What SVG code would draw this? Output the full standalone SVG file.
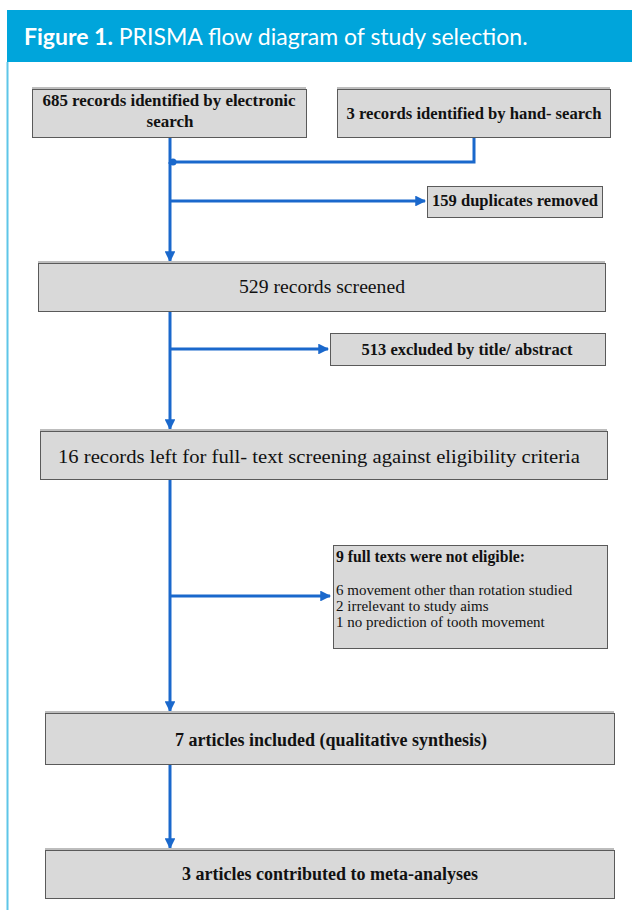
<svg xmlns="http://www.w3.org/2000/svg" width="632" height="910" viewBox="0 0 632 910">
<style>
.box{fill:#d9d9d9;stroke:#5a5a5a;stroke-width:1}
.sh{fill:#bdbdbd}
.t{font-family:"Liberation Serif","DejaVu Serif",serif;fill:#111;text-anchor:middle}
.b{font-weight:bold}
.l{text-anchor:start}
.c{fill:none;stroke:#1a68cc;stroke-width:3}
</style>
<defs>
<marker id="ah" viewBox="0 0 10 10" refX="9" refY="5" markerWidth="3.6" markerHeight="3.6" orient="auto-start-reverse" markerUnits="strokeWidth">
<path d="M0,0 L10,5 L0,10 z" fill="#1a68cc"/>
</marker>
</defs>
<rect x="0" y="0" width="632" height="910" fill="#fff"/>
<rect x="7" y="10" width="625" height="52" fill="#00a5db"/>
<line x1="7.5" y1="62" x2="7.5" y2="910" stroke="#5ec6e8" stroke-width="2"/>
<text x="24" y="45" font-family="Lato,'Open Sans',sans-serif" font-size="23" fill="#fff"><tspan font-weight="bold">Figure 1.</tspan> PRISMA flow diagram of study selection.</text>

<g id="connectors">
<path class="c" d="M170,137 V164"/>
<path class="c" d="M474,137 V162 H170"/>
<circle cx="173" cy="162" r="3.5" fill="#1a68cc"/>
<path class="c" d="M170,162 V261" marker-end="url(#ah)"/>
<path class="c" d="M170,201 H425" marker-end="url(#ah)"/>
<path class="c" d="M170,311 V429" marker-end="url(#ah)"/>
<path class="c" d="M170,349 H328" marker-end="url(#ah)"/>
<path class="c" d="M170,479 V711" marker-end="url(#ah)"/>
<path class="c" d="M170,596 H330" marker-end="url(#ah)"/>
<path class="c" d="M170,764 V848" marker-end="url(#ah)"/>
</g>

<g id="n1">
<rect class="sh" x="32" y="87" width="274" height="3"/>
<rect class="box" x="32.5" y="89.5" width="274" height="48"/>
<text class="t b" x="169" y="106" font-size="17" textLength="253" lengthAdjust="spacingAndGlyphs">685 records identified by electronic</text>
<text class="t b" x="170" y="127" font-size="17">search</text>
</g>
<g id="n2">
<rect class="sh" x="337" y="87" width="273" height="3"/>
<rect class="box" x="337.5" y="89.5" width="273" height="48"/>
<text class="t b" x="474" y="119" font-size="17" textLength="255" lengthAdjust="spacingAndGlyphs">3 records identified by hand- search</text>
</g>
<g id="n3">
<rect class="box" x="427.5" y="186.5" width="175" height="31"/>
<text class="t b" x="515" y="206" font-size="16.5" textLength="166" lengthAdjust="spacingAndGlyphs">159 duplicates removed</text>
</g>
<g id="n4">
<rect class="sh" x="38" y="261" width="567" height="3"/>
<rect class="box" x="38.5" y="263.5" width="567" height="48"/>
<text class="t" x="322" y="293" font-size="18" textLength="166" lengthAdjust="spacingAndGlyphs">529 records screened</text>
</g>
<g id="n5">
<rect class="box" x="330.5" y="333.5" width="275" height="32"/>
<text class="t b" x="467" y="355" font-size="16.5" textLength="211" lengthAdjust="spacingAndGlyphs">513 excluded by title/ abstract</text>
</g>
<g id="n6">
<rect class="sh" x="40" y="429" width="567" height="3"/>
<rect class="box" x="40.5" y="431.5" width="567" height="48"/>
<text class="t" x="319" y="463" font-size="18" textLength="522" lengthAdjust="spacingAndGlyphs">16 records left for full- text screening against eligibility criteria</text>
</g>
<g id="n7">
<rect class="box" x="333.5" y="545.5" width="274" height="103"/>
<text class="t b l" x="336" y="562" font-size="16" textLength="189" lengthAdjust="spacingAndGlyphs">9 full texts were not eligible:</text>
<text class="t l" x="336" y="595" font-size="15">6 movement other than rotation studied</text>
<text class="t l" x="336" y="611" font-size="15">2 irrelevant to study aims</text>
<text class="t l" x="336" y="627" font-size="15">1 no prediction of tooth movement</text>
</g>
<g id="n8">
<rect class="sh" x="45" y="711" width="569" height="3"/>
<rect class="box" x="45.5" y="713.5" width="569" height="51"/>
<text class="t b" x="331" y="746" font-size="18">7 articles included (qualitative synthesis)</text>
</g>
<g id="n9">
<rect class="sh" x="45" y="848" width="569" height="3"/>
<rect class="box" x="45.5" y="850.5" width="569" height="48"/>
<text class="t b" x="330" y="880" font-size="18">3 articles contributed to meta-analyses</text>
</g>
</svg>
